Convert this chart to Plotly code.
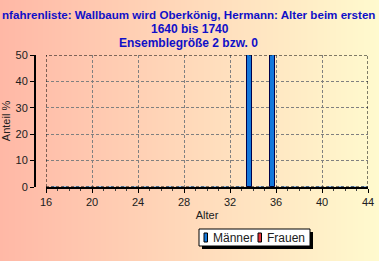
import base64, struct, zlib
import plotly.graph_objects as go

# ---- data ----
ages = [16, 17, 18, 19, 20, 21, 22, 23, 24, 25, 26, 27, 28, 29, 30, 31, 32, 33, 34, 35, 36, 37, 38, 39, 40, 41, 42, 43, 44]
maenner = [0, 0, 0, 0, 0, 0, 0, 0, 0, 0, 0, 0, 0, 0, 0, 0, 0, 0, 50, 0, 50, 0, 0, 0, 0, 0, 0, 0, 0]
frauen = [0] * len(ages)
x_ticks = [16, 20, 24, 28, 32, 36, 40, 44]
y_ticks = [0, 10, 20, 30, 40, 50]
title_lines = ["nfahrenliste: Wallbaum wird Oberkönig, Hermann: Alter beim ersten",
               "1640 bis 1740", "Ensemblegröße 2 bzw. 0"]
series_names = ["Männer", "Frauen"]
series_colors = ["#1478DC", "#E8343C"]

W, H = 379, 261
L, R, T, B = 35, 11, 55, 74
PW, PH = W - L - R, H - T - B


def px(x):
    return (x - L) / PW


def py(y):
    return (H - B - y) / PH


def gradient_png(w, c0, c1):
    rows = b""
    for _ in range(2):
        row = b"\x00"
        for i in range(w):
            t = i / (w - 1)
            row += bytes(int(round(c0[k] + (c1[k] - c0[k]) * t)) for k in range(3))
        rows += row
    def chunk(tag, data):
        c = struct.pack(">I", len(data)) + tag + data
        return c + struct.pack(">I", zlib.crc32(tag + data) & 0xffffffff)
    png = b"\x89PNG\r\n\x1a\n" + chunk(b"IHDR", struct.pack(">IIBBBBB", w, 2, 8, 2, 0, 0, 0))
    png += chunk(b"IDAT", zlib.compress(rows)) + chunk(b"IEND", b"")
    return "data:image/png;base64," + base64.b64encode(png).decode()


bg = gradient_png(W, (255, 184, 166), (255, 250, 206))

fig = go.Figure()
fig.add_trace(go.Bar(x=ages, y=maenner, name=series_names[0], width=0.43, offset=-0.5,
                     marker=dict(color=series_colors[0],
                                 line=dict(color=["#00004A" if v > 0 else "#9CC4EC" for v in maenner],
                                           width=1))))
fig.add_trace(go.Bar(x=ages, y=frauen, name=series_names[1], width=0.43, offset=0.0,
                     marker=dict(color=series_colors[1],
                                 line=dict(color=["#4A0000" if v > 0 else "rgba(0,0,0,0)" for v in frauen],
                                           width=1))))

font = dict(family="Liberation Sans, Arial, sans-serif", size=11, color="#202020")
dash = "3px,2px"

fig.update_layout(
    width=W, height=H, margin=dict(l=L, r=R, t=T, b=B, pad=0),
    paper_bgcolor="#FFD8B8", plot_bgcolor="rgba(0,0,0,0)",
    font=font, barmode="overlay", bargap=0, showlegend=False,
    images=[dict(source=bg, xref="paper", yref="paper", x=px(0), y=py(0),
                 sizex=W / PW, sizey=H / PH, sizing="stretch", layer="below",
                 xanchor="left", yanchor="top")],
    xaxis=dict(domain=[11 / PW, 1], range=[16, 44], tickvals=x_ticks, ticks="outside",
               ticklen=4, tickcolor="black", showline=True, linecolor="black", linewidth=2,
               showgrid=True, gridcolor="#808080", griddash=dash, gridwidth=1,
               zeroline=False, tickfont=font, automargin=False,
               minor=dict(dtick=1, ticks="outside", ticklen=2, tickcolor="#404040", showgrid=False),
               title=dict(text="Alter", font=font, standoff=4)),
    yaxis=dict(range=[0, 50], tickvals=y_ticks, anchor="free", position=0,
               ticks="outside", ticklen=4, tickcolor="black", showline=True,
               linecolor="black", linewidth=2, showgrid=True, gridcolor="#808080",
               griddash=dash, zeroline=False, tickfont=font, automargin=False,
               title=dict(text="Anteil %", font=font, standoff=6)),
)

# dashed plot box (top/right/left)
fig.add_shape(type="rect", xref="x", yref="y", x0=16, x1=44, y0=0, y1=50,
              line=dict(color="black", width=1, dash=dash), layer="above")

# legend (drawn manually): shadow, box, symbols, labels
lx0, lx1, ly0, ly1 = 199, 310, 229, 246
fig.add_shape(type="rect", xref="paper", yref="paper", x0=px(lx0 + 3), x1=px(lx1 + 3),
              y0=py(ly1 + 3), y1=py(ly0 + 3), fillcolor="black", line=dict(width=0))
fig.add_shape(type="rect", xref="paper", yref="paper", x0=px(lx0), x1=px(lx1),
              y0=py(ly1), y1=py(ly0), fillcolor="white", line=dict(color="black", width=1))
sym_x = [204, 258]
for name, col, sx in zip(series_names, series_colors, sym_x):
    fig.add_shape(type="rect", xref="paper", yref="paper", x0=px(sx), x1=px(sx + 3.5),
                  y0=py(242), y1=py(233), fillcolor=col, line=dict(color="black", width=1))
    fig.add_annotation(text=name, xref="paper", yref="paper", x=px(sx + 7), y=py(237.5),
                       xanchor="left", yanchor="middle", showarrow=False,
                       font=dict(family="Liberation Sans, Arial, sans-serif", size=12, color="#202020"))

title_x = [188.5, 190, 188]
title_y = [14, 29, 43]
title_sizes = [11.6, 12, 12]
for txt, xx, yy, fs in zip(title_lines, title_x, title_y, title_sizes):
    fig.add_annotation(text="<b>" + txt + "</b>", xref="paper", yref="paper",
                       x=px(xx), y=py(yy), xanchor="center", yanchor="middle",
                       showarrow=False,
                       font=dict(family="Liberation Sans, Arial, sans-serif", size=fs, color="#1010C8"))

fig.write_html("out.html")
